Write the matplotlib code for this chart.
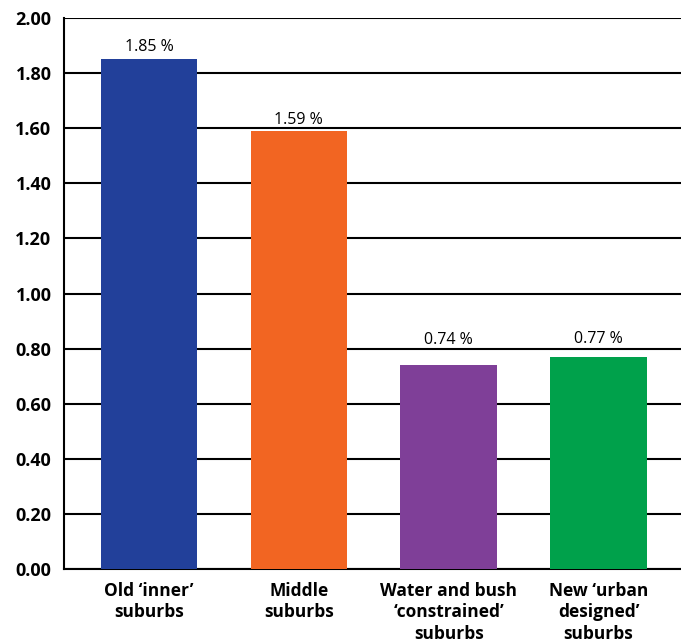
import matplotlib
matplotlib.use('Agg')
import matplotlib.pyplot as plt

# Datos del gráfico
categorias = ["Old \u2018inner\u2019\nsuburbs", "Middle\nsuburbs",
              "Water and bush\n\u2018constrained\u2019\nsuburbs",
              "New \u2018urban\ndesigned\u2019\nsuburbs"]
valores = [1.85, 1.59, 0.74, 0.77]
etiquetas = ["1.85 %", "1.59 %", "0.74 %", "0.77 %"]
colores = ["#22409A", "#F26522", "#7F3F98", "#00A14B"]
ticks_y = [0.0, 0.2, 0.4, 0.6, 0.8, 1.0, 1.2, 1.4, 1.6, 1.8, 2.0]

# Desplazamiento vertical (puntos) de cada etiqueta para que quede sobre la línea de la cuadrícula
desplazamientos = [6, 4.8, 15.5, 9.7]

plt.rcParams['font.family'] = ['Open Sans', 'DejaVu Sans']

fig = plt.figure(figsize=(6.81, 6.43), dpi=100)
ax = fig.add_axes([0.094, 0.115, 0.906, 0.857])

x = list(range(len(valores)))
ax.bar(x, valores, width=0.645, color=colores, zorder=3)

for i, v in enumerate(valores):
    ax.annotate(etiquetas[i], xy=(i, v), xytext=(0, desplazamientos[i]), textcoords="offset points",
                ha='center', va='baseline', fontsize=11.5, zorder=4)

ax.set_xlim(-0.567, 3.55)
ax.set_ylim(0, 2.0)
ax.set_yticks(ticks_y)
ax.set_yticklabels([f"{t:.2f}" for t in ticks_y], fontweight='bold', fontsize=13)
ax.set_xticks(x)
ax.set_xticklabels(categorias, fontweight='bold', fontsize=12.5, linespacing=1.27)

ax.tick_params(axis='y', length=0, pad=9)
ax.tick_params(axis='x', length=0, pad=9)

# Cuadrícula negra detrás de las barras
ax.grid(axis='y', color='black', linewidth=1.5, zorder=1)
ax.set_axisbelow(True)

for lado in ['top', 'right']:
    ax.spines[lado].set_visible(False)
ax.spines['left'].set_linewidth(1.5)
ax.spines['bottom'].set_linewidth(1.5)

fig.savefig("out.png", dpi=100)
